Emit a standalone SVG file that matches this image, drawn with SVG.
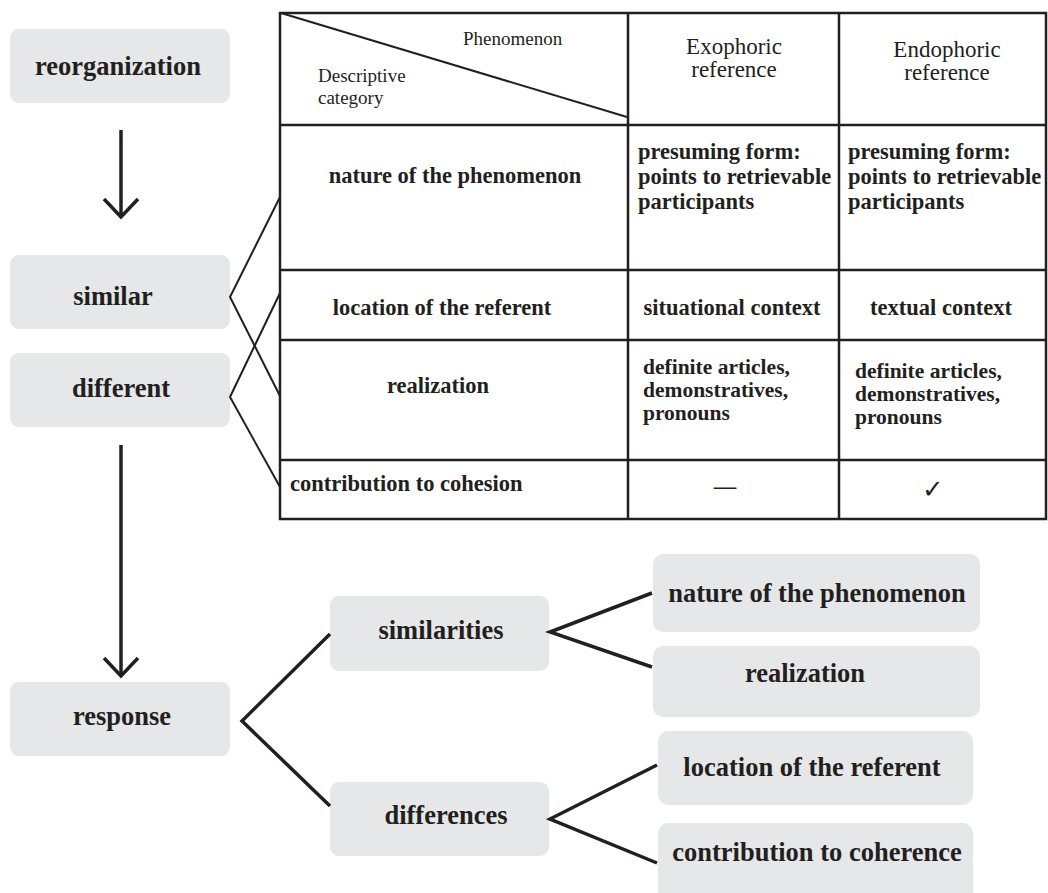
<svg xmlns="http://www.w3.org/2000/svg" width="1048" height="893" viewBox="0 0 1048 893">
  <defs>
    <style>
      .box { fill: #e6e7e8; }
      .lbl { font-family: "Liberation Serif", "Times New Roman", serif; font-weight: bold; font-size: 26.5px; fill: #231f20; text-anchor: middle; }
      .cell { font-family: "Liberation Serif", "Times New Roman", serif; font-weight: bold; font-size: 22.5px; fill: #231f20; }
      .list { font-family: "Liberation Serif", "Times New Roman", serif; font-weight: bold; font-size: 21.5px; fill: #231f20; }
      .head { font-family: "Liberation Serif", "Times New Roman", serif; font-size: 23px; fill: #231f20; }
      .small { font-family: "Liberation Serif", "Times New Roman", serif; font-size: 19px; fill: #231f20; }
      .mid { text-anchor: middle; }
      .grid { stroke: #231f20; stroke-width: 2.5; fill: none; }
      .thin { stroke: #231f20; stroke-width: 2; fill: none; }
      .thick { stroke: #231f20; stroke-width: 3.5; fill: none; stroke-linejoin: miter; }
    </style>
  </defs>

  <rect width="1048" height="893" fill="#ffffff"/>

  <!-- Comparison table -->
  <g id="table">
    <rect class="grid" x="280" y="13" width="766" height="506"/>
    <line class="grid" x1="628" y1="13" x2="628" y2="519"/>
    <line class="grid" x1="839" y1="13" x2="839" y2="519"/>
    <line class="grid" x1="280" y1="125" x2="1046" y2="125"/>
    <line class="grid" x1="280" y1="270" x2="1046" y2="270"/>
    <line class="grid" x1="280" y1="340" x2="1046" y2="340"/>
    <line class="grid" x1="280" y1="460" x2="1046" y2="460"/>
    <line class="thin" x1="281" y1="13" x2="627" y2="117"/>

    <text class="small" x="463" y="45">Phenomenon</text>
    <text class="small" x="318" y="82">Descriptive</text>
    <text class="small" x="318" y="104">category</text>
    <text class="head mid" x="734" y="54">Exophoric</text>
    <text class="head mid" x="734" y="77">reference</text>
    <text class="head mid" x="947" y="57">Endophoric</text>
    <text class="head mid" x="947" y="80">reference</text>

    <text class="cell mid" x="455" y="183">nature of the phenomenon</text>
    <text class="cell" x="638" y="159">presuming form:</text>
    <text class="cell" x="638" y="184">points to retrievable</text>
    <text class="cell" x="638" y="209">participants</text>
    <text class="cell" x="848" y="159">presuming form:</text>
    <text class="cell" x="848" y="184">points to retrievable</text>
    <text class="cell" x="848" y="209">participants</text>

    <text class="cell mid" x="442" y="315">location of the referent</text>
    <text class="cell mid" x="732" y="315">situational context</text>
    <text class="cell mid" x="941" y="315">textual context</text>

    <text class="cell mid" x="438" y="393">realization</text>
    <text class="list" x="643" y="374">definite articles,</text>
    <text class="list" x="643" y="397">demonstratives,</text>
    <text class="list" x="643" y="420">pronouns</text>
    <text class="list" x="855" y="378">definite articles,</text>
    <text class="list" x="855" y="401">demonstratives,</text>
    <text class="list" x="855" y="424">pronouns</text>

    <text class="cell" x="290" y="491">contribution to cohesion</text>
    <text class="cell mid" x="725" y="494">—</text>
    <text class="mid" x="933" y="498" font-family="DejaVu Sans, sans-serif" font-size="26" fill="#231f20">✓</text>
  </g>

  <!-- Left column nodes -->
  <g id="reorganization">
    <rect class="box" x="10" y="29" width="220" height="74" rx="9"/>
    <text class="lbl" x="118" y="75">reorganization</text>
  </g>
  <g id="similar">
    <rect class="box" x="10" y="255" width="220" height="74" rx="9"/>
    <text class="lbl" x="113" y="305">similar</text>
  </g>
  <g id="different">
    <rect class="box" x="10" y="353" width="220" height="74" rx="9"/>
    <text class="lbl" x="121" y="397">different</text>
  </g>
  <g id="response">
    <rect class="box" x="10" y="682" width="220" height="74" rx="9"/>
    <text class="lbl" x="122" y="725">response</text>
  </g>

  <!-- Second level -->
  <g id="similarities">
    <rect class="box" x="330" y="596" width="219" height="75" rx="9"/>
    <text class="lbl" x="441" y="639">similarities</text>
  </g>
  <g id="differences">
    <rect class="box" x="330" y="782" width="219" height="74" rx="9"/>
    <text class="lbl" x="446" y="824">differences</text>
  </g>

  <!-- Leaves -->
  <g id="leaf-nature">
    <rect class="box" x="653" y="554" width="327" height="78" rx="10"/>
    <text class="lbl" x="817" y="602">nature of the phenomenon</text>
  </g>
  <g id="leaf-realization">
    <rect class="box" x="653" y="646" width="327" height="71" rx="10"/>
    <text class="lbl" x="805" y="682">realization</text>
  </g>
  <g id="leaf-location">
    <rect class="box" x="658" y="731" width="315" height="74" rx="10"/>
    <text class="lbl" x="812" y="776">location of the referent</text>
  </g>
  <g id="leaf-contribution">
    <rect class="box" x="658" y="823" width="315" height="80" rx="10"/>
    <text class="lbl" x="817" y="861">contribution to coherence</text>
  </g>

  <!-- Connectors -->
  <g id="connectors">
    <!-- flow arrows -->
    <line class="thick" x1="121" y1="130" x2="121" y2="217"/>
    <polyline class="thick" points="104,199 121,217 138,199"/>
    <line class="thick" x1="121" y1="445" x2="121" y2="676"/>
    <polyline class="thick" points="104,658 121,676 138,658"/>

    <!-- links into the table -->
    <polyline class="thin" points="280,197 230,297 280,396"/>
    <polyline class="thin" points="280,293 230,397 280,487"/>

    <!-- response tree -->
    <polyline class="thick" points="330,634 242,721 330,806"/>
    <polyline class="thick" points="652,593 550,632 652,667"/>
    <polyline class="thick" points="657,765 550,819 657,863"/>
  </g>
</svg>
